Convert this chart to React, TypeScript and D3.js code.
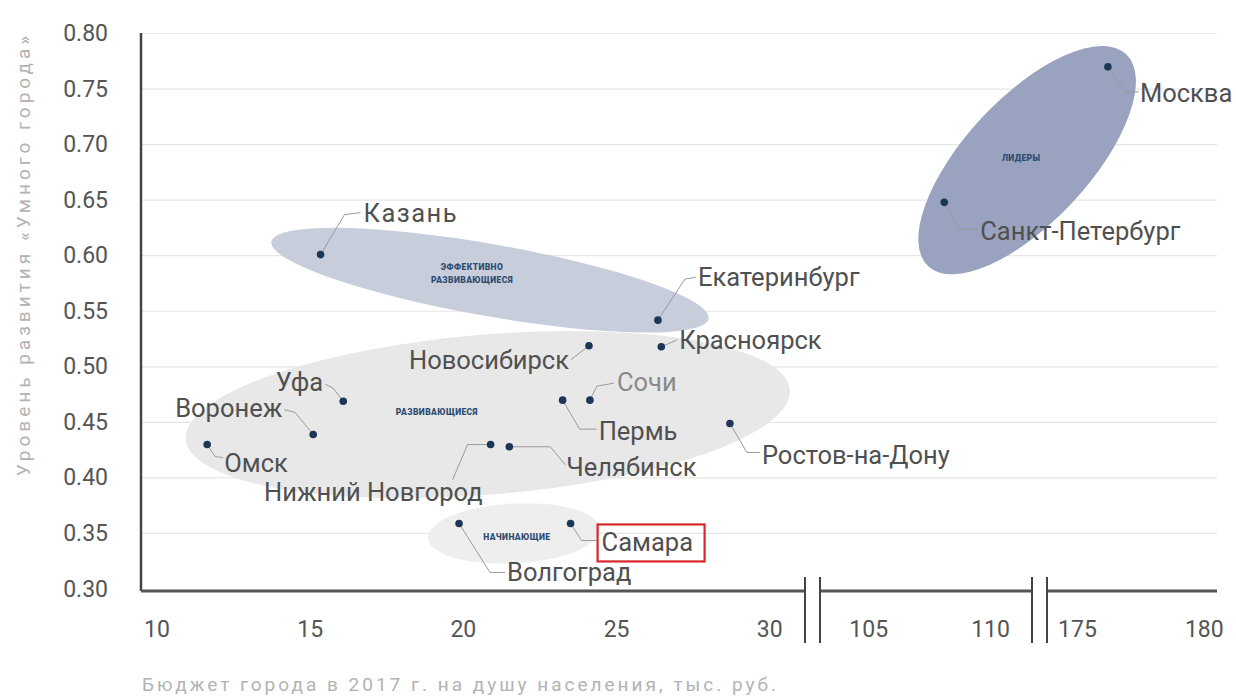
import React from "react";
import * as d3 from "d3";

// ---------- DATA ----------
const cityNames = [
  "Москва", "Санкт-Петербург", "Казань", "Екатеринбург", "Красноярск", "Новосибирск",
  "Уфа", "Пермь", "Сочи", "Воронеж", "Ростов-на-Дону", "Омск",
  "Нижний Новгород", "Челябинск", "Волгоград", "Самара",
];
const budgetValues = [176.2, 108.1, 15.34, 26.35, 26.46, 24.1, 16.08, 23.24, 24.13, 15.1, 28.7, 11.64, 20.89, 21.5, 19.86, 23.5];
const smartCityValues = [0.77, 0.648, 0.601, 0.542, 0.518, 0.519, 0.469, 0.47, 0.47, 0.439, 0.449, 0.43, 0.43, 0.428, 0.359, 0.359];

const xSegmentDomains: [number, number][] = [[9.48, 31.15], [103.0, 111.7], [173.8, 180.5]];
const xSegmentTicks = [[10, 15, 20, 25, 30], [105, 110], [175, 180]];
const yTicks = [0.3, 0.35, 0.4, 0.45, 0.5, 0.55, 0.6, 0.65, 0.7, 0.75, 0.8];

const clusterNames = [["ЛИДЕРЫ"], ["ЭФФЕКТИВНО", "РАЗВИВАЮЩИЕСЯ"], ["РАЗВИВАЮЩИЕСЯ"], ["НАЧИНАЮЩИЕ"]];
const clusterCenterX = [111.5, 20.87, 20.8, 21.65];
const clusterCenterY = [0.686, 0.578, 0.457, 0.35];

const yTitle = "Уровень развития «Умного города»";
const xTitle = "Бюджет города в 2017 г. на душу населения, тыс. руб.";

// ---------- LAYOUT ----------
const W = 1236, H = 697;
const segRanges: [number, number][] = [[141, 805], [820, 1032], [1047, 1217]];
const yRange: [number, number] = [589, 33.5];
const axisY = 591;

const clusterStyle = [
  { rx: 145, ry: 62, angle: -47, fill: "#99a2be", ldx: -6, ldy: -2 },
  { rx: 222, ry: 36, angle: 10, fill: "#c7cddb", ldx: -18, ldy: -13 },
  { rx: 303, ry: 80, angle: -4.7, fill: "#e8e8e8", ldx: -51, ldy: -3 },
  { rx: 86, ry: 30, angle: -3, fill: "#eeeeee", ldx: 3, ldy: 4 },
];

type LabelLayout = { path: [number, number][]; dx: number; dy: number; anchor: string; color?: string; box?: boolean; spacing?: number };
const labelLayout: Record<string, LabelLayout> = {
  "Москва": { path: [[0, 0], [18, 25], [31, 25]], dx: 32, dy: 26, anchor: "start" },
  "Санкт-Петербург": { path: [[0, 0], [15, 27], [34, 27]], dx: 36, dy: 29, anchor: "start" },
  "Казань": { path: [[0, 0], [24, -40], [40, -42]], dx: 43, dy: -42, anchor: "start", spacing: 1.5 },
  "Екатеринбург": { path: [[0, 0], [27, -41], [38, -43]], dx: 40, dy: -43, anchor: "start" },
  "Красноярск": { path: [[0, 0], [16, -7]], dx: 18, dy: -7, anchor: "start" },
  "Новосибирск": { path: [[0, 0], [-18, 14]], dx: -20, dy: 14, anchor: "end" },
  "Уфа": { path: [[0, 0], [-10, -13], [-18, -17]], dx: -20, dy: -19, anchor: "end" },
  "Воронеж": { path: [[0, 0], [-18, -22], [-29, -25]], dx: -31, dy: -27, anchor: "end" },
  "Омск": { path: [[0, 0], [8, 12], [16, 13]], dx: 17, dy: 18, anchor: "start" },
  "Нижний Новгород": { path: [[0, 0], [-23, 0], [-38, 35]], dx: -8, dy: 47, anchor: "end" },
  "Челябинск": { path: [[0, 0], [41, 0], [56, 18]], dx: 57, dy: 20, anchor: "start" },
  "Пермь": { path: [[0, 0], [17, 29], [34, 29]], dx: 36, dy: 31, anchor: "start" },
  "Сочи": { path: [[0, 0], [7, -14], [24, -17]], dx: 27, dy: -18, anchor: "start", color: "#8a8a8a" },
  "Ростов-на-Дону": { path: [[0, 0], [17, 29], [30, 29]], dx: 32, dy: 32, anchor: "start" },
  "Волгоград": { path: [[0, 0], [31, 49], [46, 49]], dx: 48, dy: 49, anchor: "start" },
  "Самара": { path: [[0, 0], [11, 17], [27, 17]], dx: 31, dy: 19, anchor: "start", box: true },
};

const FONT = "Roboto, 'Noto Sans', sans-serif";

export default function App() {
  const segScales = xSegmentDomains.map((d, i) => d3.scaleLinear().domain(d).range(segRanges[i]));
  const x = (v: number) => {
    for (let i = 0; i < xSegmentDomains.length; i++) {
      const [a, b] = xSegmentDomains[i];
      if (v >= a && v <= b) return segScales[i](v);
    }
    let best = 0, bd = Infinity;
    xSegmentDomains.forEach(([a, b], i) => {
      const dd = Math.min(Math.abs(v - a), Math.abs(v - b));
      if (dd < bd) { bd = dd; best = i; }
    });
    return segScales[best](v);
  };
  const y = d3.scaleLinear().domain([0.3, 0.8]).range(yRange);
  const line = d3.line();

  const points = cityNames.map((name, i) => ({ name, px: x(budgetValues[i]), py: y(smartCityValues[i]) }));

  return (
    <svg width={W} height={H} style={{ position: "absolute", left: 0, top: 0, background: "#fff" }} fontFamily={FONT}>
      {/* gridlines */}
      {yTicks.slice(1).map((t) => (
        <line key={t} x1={segRanges[0][0]} x2={segRanges[2][1]} y1={y(t)} y2={y(t)} stroke="#e6e6e6" strokeWidth={1.2} />
      ))}
      {/* clusters */}
      {clusterNames.map((lines, i) => {
        const cx = x(clusterCenterX[i]);
        const cy = y(clusterCenterY[i]);
        const s = clusterStyle[i];
        return (
          <g key={i}>
            <ellipse cx={cx} cy={cy} rx={s.rx} ry={s.ry} fill={s.fill} transform={`rotate(${s.angle} ${cx} ${cy})`} />
            {lines.map((l, j) => (
              <text key={j} x={cx + s.ldx} y={cy + s.ldy + j * 13} textAnchor="middle" dominantBaseline="central"
                fontSize={8.5} fontWeight={900} letterSpacing={0.4} fill="#2d4c72">{l}</text>
            ))}
          </g>
        );
      })}
      {/* y axis */}
      <line x1={141} x2={141} y1={33} y2={axisY} stroke="#444" strokeWidth={2.5} />
      {yTicks.map((t) => (
        <text key={t} x={108} y={y(t)} textAnchor="end" dominantBaseline="central" fontSize={23} fill="#555">{d3.format(".2f")(t)}</text>
      ))}
      <text transform={`translate(23, 254) rotate(-90)`} textAnchor="middle" dominantBaseline="central" fontSize={19} letterSpacing={4} fill="#b3b3b3">{yTitle}</text>
      {/* x axis segments */}
      {segRanges.map((r, i) => (
        <line key={i} x1={r[0]} x2={r[1]} y1={axisY} y2={axisY} stroke="#555" strokeWidth={3} />
      ))}
      {[805, 820, 1032, 1047].map((bx, i) => (
        <line key={i} x1={bx} x2={bx} y1={577} y2={643} stroke="#444" strokeWidth={2} />
      ))}
      {xSegmentTicks.map((ticks, i) =>
        ticks.map((t) => (
          <text key={`${i}-${t}`} x={segScales[i](t)} y={629} textAnchor="middle" dominantBaseline="central" fontSize={23} fill="#555">{t}</text>
        ))
      )}
      <text x={142} y={684} dominantBaseline="central" fontSize={19} letterSpacing={3} fill="#b3b3b3">{xTitle}</text>
      {/* leaders and labels */}
      {points.map((p) => {
        const L = labelLayout[p.name];
        const pathD = line(L.path.map(([dx, dy]) => [p.px + dx, p.py + dy] as [number, number]));
        return (
          <g key={p.name}>
            <path d={pathD || ""} fill="none" stroke="#9a9a9a" strokeWidth={1} />
            <text x={p.px + L.dx} y={p.py + L.dy} textAnchor={L.anchor} dominantBaseline="central" fontSize={25.5}
              letterSpacing={L.spacing || 0} fill={L.color || "#505050"}>{p.name}</text>
            {L.box && (
              <rect x={p.px + L.dx - 4} y={p.py + L.dy - 18} width={107} height={37} fill="none" stroke="#d9262c" strokeWidth={2.2} />
            )}
          </g>
        );
      })}
      {/* dots */}
      {points.map((p) => (
        <circle key={p.name} cx={p.px} cy={p.py} r={3.8} fill="#1c3658" />
      ))}
    </svg>
  );
}
